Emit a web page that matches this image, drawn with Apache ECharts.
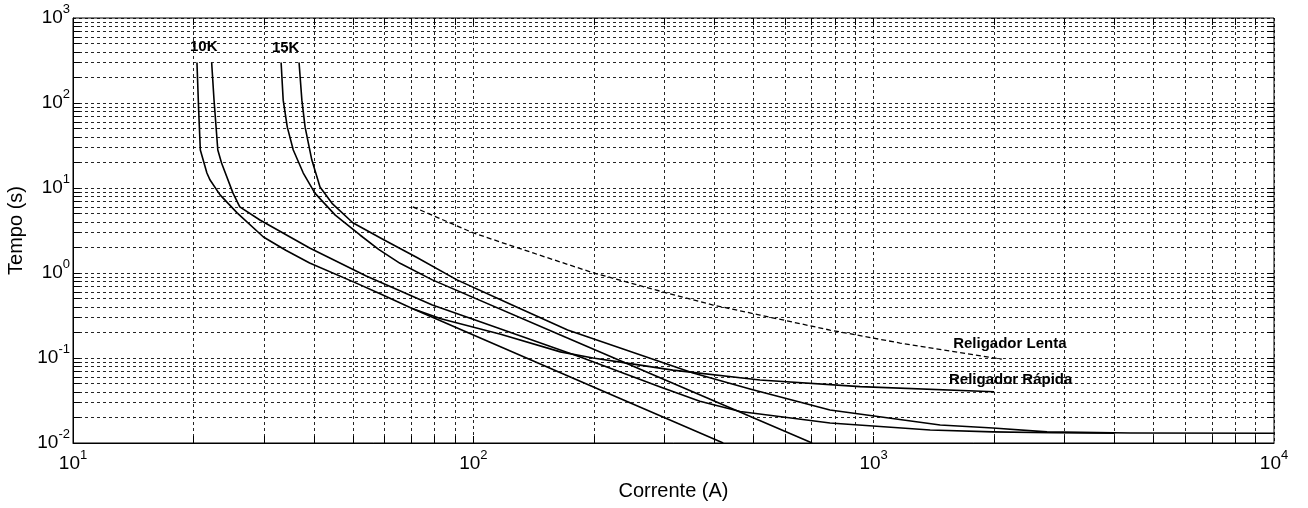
<!DOCTYPE html>
<html>
<head>
<meta charset="utf-8">
<script src="https://cdn.jsdelivr.net/npm/echarts@6/dist/echarts.min.js"></script>
<style>
  html, body { margin: 0; padding: 0; background: #fff; }
  #grafico { width: 1308px; height: 508px; }
</style>
</head>
<body>
<div id="grafico"></div>
<script>
var fonte = '"Liberation Sans", Arial, sans-serif';

// curvas [corrente (A), tempo (s)]
var elo10kMin = [[20.4, 300], [20.6, 83], [20.8, 28], [21.6, 15], [22.0, 12.4], [23.3, 8.3], [25.7, 5.1],
    [29.9, 2.65], [34, 1.85], [39, 1.31], [51, 0.76], [58.5, 0.57], [70.6, 0.38], [177, 0.058], [421, 0.01]];
var elo10kTot = [[22.2, 300], [22.5, 110], [23.0, 28], [23.5, 19.7], [25.1, 8.7], [26.1, 6.0], [29.3, 4.2],
    [39, 1.97], [54, 0.92], [79, 0.42], [104, 0.267], [185, 0.103], [292, 0.046], [368, 0.031],
    [464, 0.0235], [778, 0.0172], [1384, 0.0142], [1986, 0.0135], [2800, 0.0132], [4000, 0.013]];
var elo15kMin = [[33.1, 300], [33.5, 108], [34.3, 52], [35.5, 28], [37.6, 15], [40.2, 8.7], [45.2, 4.8],
    [52.1, 2.8], [58, 1.9], [65.6, 1.3], [79, 0.83], [165, 0.187], [702, 0.01]];
var elo15kTot = [[36.7, 300], [37.3, 108], [38.0, 52], [39.5, 21.3], [41.4, 10.3], [44.5, 6.5], [50, 3.9],
    [59.4, 2.5], [72.3, 1.52], [91, 0.83], [125, 0.42], [172, 0.213], [354, 0.0667], [491, 0.0432], [778, 0.0244],
    [1466, 0.0163], [1986, 0.015], [2710, 0.0135], [4370, 0.0131], [10000, 0.013]];
var religLenta = [[70.6, 6.0], [100, 2.96], [141, 1.72], [200, 1.0], [305, 0.58], [397, 0.42], [520, 0.32],
    [778, 0.213], [1164, 0.15], [2090, 0.097]];
var religRapida = [[70.6, 0.38], [83, 0.29], [117, 0.19], [165, 0.118], [199, 0.10], [242, 0.087],
    [315, 0.072], [520, 0.055], [925, 0.046], [2000, 0.040]];

// textos sobre o grafico: [texto, corrente, tempo]
var rotulos = [['10K', 19.6, 460], ['15K', 31.4, 450], ['Religador Lenta', 1580, 0.148], ['Religador Rápida', 1542, 0.0548]];

// decadas para a grade secundaria
var decadasX = [10, 100, 1000];
var decadasY = [0.01, 0.1, 1, 10, 100];
var fatores = [2, 3, 4, 5, 6, 7, 8, 9];
var limX = [10, 10000];
var limY = [0.01, 1000];

var estiloGrade = { type: [3, 3], color: '#000', width: 1, opacity: 0.85 };

function potencia(v) {
    return '{b|10}{s|' + Math.round(Math.log(v) / Math.LN10) + '}';
}

var richPot = {
    b: { fontSize: 19, fontFamily: fonte, color: '#000', lineHeight: 30 },
    s: { fontSize: 13, fontFamily: fonte, color: '#000', verticalAlign: 'top', lineHeight: 15 }
};

var linhasGrade = [];
var tracinhos = [];   // marcas curtas por dentro da moldura
var kx = Math.pow(10, 7 / 400), ky = Math.pow(10, 7 / 85);
decadasX.forEach(function (d, i) {
    fatores.forEach(function (f) { linhasGrade.push({ xAxis: d * f }); });
    [1].concat(fatores).forEach(function (f) {
        var v = d * f;
        if (v <= limX[0]) return;
        tracinhos.push([{ coord: [v, limY[0]] }, { coord: [v, limY[0] * ky] }]);
        tracinhos.push([{ coord: [v, limY[1]] }, { coord: [v, limY[1] / ky] }]);
    });
});
decadasY.forEach(function (d) {
    fatores.forEach(function (f) { linhasGrade.push({ yAxis: d * f }); });
    [1].concat(fatores).forEach(function (f) {
        var v = d * f;
        if (v <= limY[0]) return;
        tracinhos.push([{ coord: [limX[0], v] }, { coord: [limX[0] * kx, v] }]);
        tracinhos.push([{ coord: [limX[1], v] }, { coord: [limX[1] / kx, v] }]);
    });
});

function curva(nome, dados, tracejado) {
    return {
        name: nome,
        type: 'line',
        data: dados,
        symbol: 'none',
        z: 3,
        lineStyle: { color: '#000', width: tracejado ? 1.3 : 1.6, type: tracejado ? [5, 3] : 'solid', join: 'round' }
    };
}

var myChart = echarts.init(document.getElementById('grafico'));

var myOption = {
    animation: false,
    grid: {
        left: 73, right: 34, top: 18, bottom: 65,
        outerBoundsMode: 'none', containLabel: false,
        show: true, borderColor: '#000', borderWidth: 1
    },
    xAxis: {
        type: 'log',
        logBase: 10,
        min: limX[0],
        max: limX[1],
        name: 'Corrente (A)',
        nameLocation: 'middle',
        nameGap: 38,
        nameTextStyle: { fontSize: 20, fontFamily: fonte, color: '#000' },
        axisLine: { lineStyle: { color: '#000' } },
        axisTick: { show: false },
        axisLabel: { formatter: potencia, rich: richPot, margin: 6 },
        splitLine: { show: true, lineStyle: estiloGrade }
    },
    yAxis: {
        type: 'log',
        logBase: 10,
        min: limY[0],
        max: limY[1],
        name: 'Tempo (s)',
        nameLocation: 'middle',
        nameGap: 47,
        nameTextStyle: { fontSize: 20, fontFamily: fonte, color: '#000' },
        axisLine: { show: true, lineStyle: { color: '#000' } },
        axisTick: { show: false },
        axisLabel: { formatter: potencia, rich: richPot, margin: 3 },
        splitLine: { show: true, lineStyle: estiloGrade }
    },
    series: [
        {
            name: 'grade',
            type: 'line',
            data: [],
            symbol: 'none',
            z: 1,
            markLine: {
                silent: true,
                symbol: 'none',
                animation: false,
                label: { show: false },
                lineStyle: estiloGrade,
                data: linhasGrade
            }
        },
        {
            name: 'marcas',
            type: 'line',
            data: [],
            symbol: 'none',
            z: 2,
            markLine: {
                silent: true,
                symbol: 'none',
                animation: false,
                label: { show: false },
                lineStyle: { type: 'solid', color: '#000', width: 1 },
                data: tracinhos
            }
        },
        curva('10K min', elo10kMin),
        curva('10K total', elo10kTot),
        curva('15K min', elo15kMin),
        curva('15K total', elo15kTot),
        curva('Religador Lenta', religLenta, true),
        curva('Religador Rápida', religRapida)
    ]
};

myChart.setOption(myOption);

// posiciona os textos pelas coordenadas do grafico
var textos = rotulos.map(function (r) {
    var p = myChart.convertToPixel({ gridIndex: 0 }, [r[1], r[2]]);
    return {
        type: 'text',
        x: p[0],
        y: p[1],
        z: 10,
        style: {
            text: r[0],
            font: 'bold 15px ' + fonte,
            fill: '#000',
            verticalAlign: 'middle',
            align: 'left'
        }
    };
});
myChart.setOption({ graphic: textos });
</script>
</body>
</html>
